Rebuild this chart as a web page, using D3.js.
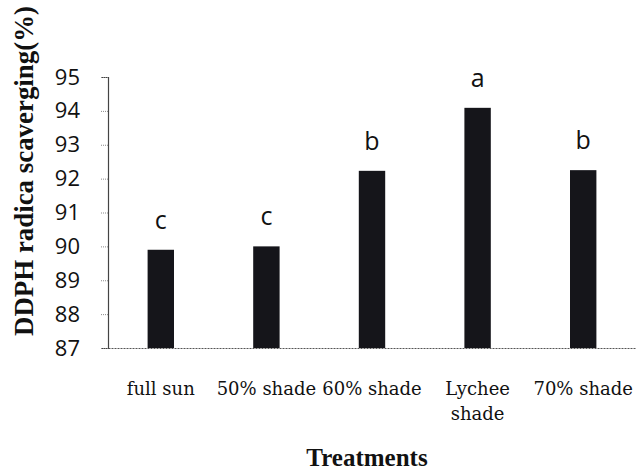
<!DOCTYPE html>
<meta charset="utf-8">
<html>
  <head>
    <script src="https://d3js.org/d3.v7.min.js"></script>
    <style>
      body { margin: 0; background: #fff; }
    </style>
  </head>
  <body>
    <svg id="chart" width="636" height="474"></svg>
    <script>
    const treatments = ["full sun", "50% shade", "60% shade", "Lychee shade", "70% shade"];
    const tickLabels = ["full sun", "50% shade", "60% shade", "Lychee\nshade", "70% shade"];
    const scavenging = [89.9, 90.0, 92.23, 94.09, 92.25];
    const letters = ["c", "c", "b", "a", "b"];
    const yTicks = [87, 88, 89, 90, 91, 92, 93, 94, 95];

    var svg = d3.select("#chart");
    svg.append("rect").attr("width", 636).attr("height", 474).attr("fill", "#fff");

    var plotLeft = 108, plotRight = 636, plotTop = 77, base = 348;

    var x = d3.scaleBand()
        .domain(treatments)
        .range([plotLeft, plotRight])
        .paddingInner(0.75)
        .paddingOuter(0.375);

    var y = d3.scaleLinear()
        .domain([87, 95])
        .range([base, plotTop]);

    // y axis
    var yAxis = svg.append("g")
        .attr("transform", "translate(" + plotLeft + ",0)")
        .call(d3.axisLeft(y).tickValues(yTicks).tickSize(7).tickPadding(21).tickFormat(d3.format("d")));
    yAxis.select(".domain").attr("stroke", "#444").attr("stroke-width", 1.2);
    yAxis.selectAll(".tick line").attr("stroke", "#888").attr("stroke-dasharray", "1,1");
    yAxis.selectAll("text")
        .style("font-family", "'Open Sans', sans-serif")
        .style("font-size", "22px")
        .attr("fill", "#111");

    // bars
    svg.selectAll(".bar")
        .data(scavenging)
        .enter()
        .append("rect")
        .attr("class", "bar")
        .attr("x", function(d, i) { return x(treatments[i]); })
        .attr("y", function(d) { return y(d); })
        .attr("width", x.bandwidth())
        .attr("height", function(d) { return base - y(d); })
        .attr("fill", "#15151a");

    // x axis baseline (dotted)
    var xAxis = svg.append("g")
        .attr("transform", "translate(0," + base + ")")
        .call(d3.axisBottom(x).tickSize(0).tickPadding(0).tickFormat(""));
    xAxis.select(".domain").attr("stroke", "#555").attr("stroke-width", 1.2).attr("stroke-dasharray", "2,1");

    // category labels
    svg.selectAll(".xlab")
        .data(treatments)
        .enter()
        .append("text")
        .attr("class", "xlab")
        .attr("text-anchor", "middle")
        .style("font-family", "'DejaVu Serif', serif")
        .style("font-size", "18px")
        .attr("fill", "#111")
        .each(function(d, i) {
            var lines = tickLabels[i].split("\n");
            var t = d3.select(this);
            lines.forEach(function(l, j) {
                t.append("tspan")
                    .attr("x", x(d) + x.bandwidth() / 2)
                    .attr("y", 395 + j * 25)
                    .text(l);
            });
        });

    // significance letters
    svg.selectAll(".sig")
        .data(scavenging)
        .enter()
        .append("text")
        .attr("class", "sig")
        .attr("text-anchor", "middle")
        .attr("x", function(d, i) { return x(treatments[i]) + x.bandwidth() / 2; })
        .attr("y", function(d) { return y(d) - 21; })
        .style("font-family", "'Open Sans', sans-serif")
        .style("font-size", "25px")
        .attr("fill", "#111")
        .text(function(d, i) { return letters[i]; });

    // axis titles
    svg.append("text")
        .attr("transform", "translate(33,171) rotate(-90)")
        .attr("text-anchor", "middle")
        .attr("textLength", 330)
        .attr("lengthAdjust", "spacingAndGlyphs")
        .style("font-family", "'Liberation Serif', serif")
        .style("font-weight", "bold")
        .style("font-size", "27px")
        .attr("fill", "#111")
        .text("DDPH radica scaverging(%)");

    svg.append("text")
        .attr("x", 367)
        .attr("y", 466)
        .attr("text-anchor", "middle")
        .style("font-family", "'Liberation Serif', serif")
        .style("font-weight", "bold")
        .style("font-size", "25px")
        .attr("fill", "#111")
        .text("Treatments");
    </script>
  </body>
</html>
